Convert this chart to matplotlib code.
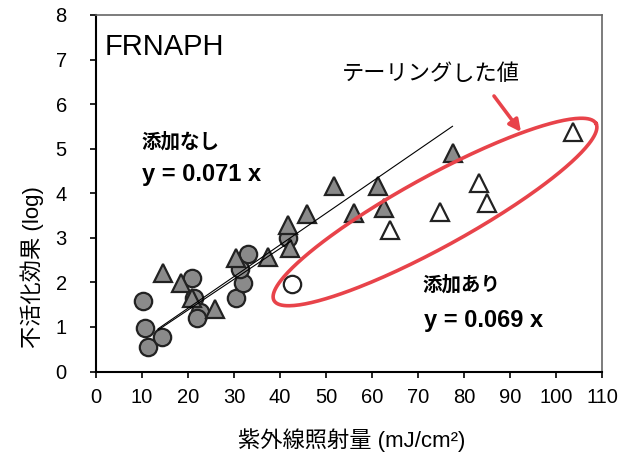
import numpy as np
import matplotlib
matplotlib.use("Agg")
import matplotlib.pyplot as plt

plt.rcParams["font.family"] = ["Liberation Sans", "Noto Sans CJK JP"]

# gray circles / gray triangles (添加なし), open circle / open triangles (添加あり)
circ_x = [10.3, 10.7, 11.2, 14.4, 20.8, 21.2, 22.6, 22.0, 30.4, 32.0, 31.3, 33.0, 41.8]
circ_y = [1.58, 0.98, 0.54, 0.78, 2.09, 1.64, 1.34, 1.21, 1.64, 1.99, 2.31, 2.63, 3.00]
tri_x = [14.6, 18.4, 20.9, 25.9, 30.4, 37.4, 42.2, 41.8, 45.9, 51.7, 56.1, 61.2, 62.5, 77.5]
tri_y = [2.22, 1.98, 1.64, 1.40, 2.54, 2.58, 2.78, 3.28, 3.54, 4.17, 3.56, 4.17, 3.66, 4.90]
open_circ_x = [42.5]
open_circ_y = [1.97]
open_tri_x = [63.9, 74.8, 83.3, 85.1, 103.6]
open_tri_y = [3.17, 3.58, 4.22, 3.77, 5.38]

slope_none = 0.071
slope_add = 0.069
fit_none_x = [13.5, 77.5]
fit_add_x = [13.5, 42.5]

RED = "#e8434a"
GRAY = "#8a8a8a"
EDGE = "#222222"

fig = plt.figure(figsize=(6.35, 4.57), dpi=100)
ax = fig.add_axes([96 / 635, 1 - 371.5 / 457, 506 / 635, 356.5 / 457])
ax.set_xlim(0, 110)
ax.set_ylim(0, 8)
ax.set_xticks(np.arange(0, 111, 10))
ax.set_yticks(np.arange(0, 9, 1))
ax.tick_params(direction="out", length=4, width=1.2, labelsize=14.5, colors="black")
ax.tick_params(axis="x", pad=8)
ax.tick_params(axis="y", pad=17)
for s in ["left", "bottom"]:
    ax.spines[s].set_linewidth(1.5)
    ax.spines[s].set_color("black")
for s in ["top", "right"]:
    ax.spines[s].set_linewidth(1.2)
    ax.spines[s].set_color("#666666")

mk = dict(linestyle="none", markeredgewidth=1.6, markeredgecolor=EDGE, zorder=3)
ax.plot(circ_x, circ_y, marker="o", markersize=12.5, markerfacecolor=GRAY, **mk)
ax.plot(tri_x, tri_y, marker="^", markersize=12.5, markerfacecolor=GRAY, **mk)
ax.plot(open_circ_x, open_circ_y, marker="o", markersize=12.5, markerfacecolor="white", **mk)
ax.plot(open_tri_x, open_tri_y, marker="^", markersize=12.5, markerfacecolor="white", **mk)

fx = np.array(fit_none_x)
ax.plot(fx, slope_none * fx, color="black", lw=0.8, zorder=4)
fx = np.array(fit_add_x)
ax.plot(fx, slope_add * fx, color="black", lw=0.8, zorder=4)

# red ellipse around the tailing points (built in pixel space -> data units)
pxx, pxy = 506 / 110, 356.5 / 8
c = np.array([(435 - 96) / pxx, (371.5 - 212) / pxy])
u = np.array([161 / pxx, 88.5 / pxy])
v = np.array([15.4 / pxx, -28.1 / pxy]) * 1.1
t = np.linspace(0, 2 * np.pi, 300)
ex = c[0] + np.cos(t) * u[0] + np.sin(t) * v[0]
ey = c[1] + np.cos(t) * u[1] + np.sin(t) * v[1]
ax.plot(ex, ey, color=RED, lw=2.6, zorder=5, clip_on=False)

ax.annotate("", xy=(521 / 635, 1 - 132 / 457), xytext=(494 / 635, 1 - 96 / 457),
            xycoords="figure fraction", textcoords="figure fraction",
            arrowprops=dict(arrowstyle="-|>,head_length=0.7,head_width=0.35",
                            color=RED, lw=2.6, shrinkA=0, shrinkB=0))

fig.text(105 / 635, 1 - 47 / 457, "FRNAPH", fontsize=21, va="center", ha="left")
fig.text(431 / 635, 1 - 75 / 457, "テーリングした値", fontsize=16, va="center", ha="center")
fig.text(141 / 635, 1 - 142 / 457, "添加なし", fontsize=14, fontweight="bold", va="center")
fig.text(142 / 635, 1 - 175 / 457, "y = 0.071 x", fontsize=17, fontweight="bold", va="center")
fig.text(422 / 635, 1 - 285 / 457, "添加あり", fontsize=14, fontweight="bold", va="center")
fig.text(424 / 635, 1 - 320 / 457, "y = 0.069 x", fontsize=17, fontweight="bold", va="center")

fig.text(352 / 635, 1 - 440 / 457, "紫外線照射量 (mJ/cm²)", fontsize=16, ha="center", va="center")
fig.text(32 / 635, 1 - 267 / 457, "不活化効果 (log)", fontsize=16, ha="center", va="center",
         rotation=90)

fig.savefig("out.png", dpi=100)
